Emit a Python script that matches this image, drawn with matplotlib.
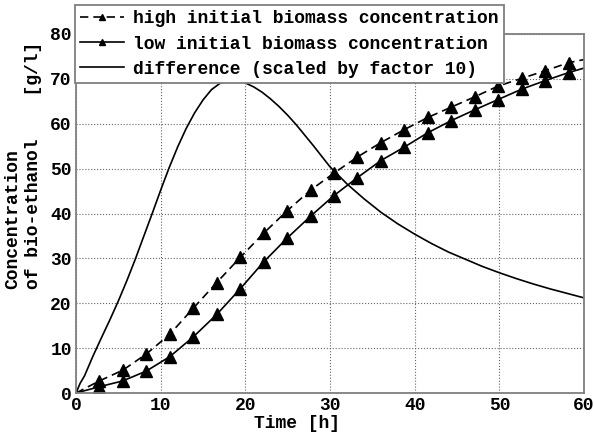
from __future__ import annotations

import matplotlib

matplotlib.use("Agg")
import matplotlib.pyplot as plt
from matplotlib.axes import Axes
from matplotlib.figure import Figure

# sampling times of the two simulated runs (markers sit on these points)
time_runs = [0, 2.77, 5.54, 8.31, 11.08, 13.85, 16.62, 19.39, 22.16, 24.93, 27.70, 30.47,
             33.24, 36.01, 38.78, 41.55, 44.32, 47.09, 49.86, 52.63, 55.40, 58.17, 60]
high_biomass = [0, 2.7, 5.1, 8.7, 13.1, 18.9, 24.6, 30.2, 35.6, 40.6, 45.2, 49.0,
                52.6, 55.8, 58.7, 61.4, 63.7, 66.0, 68.4, 70.1, 71.8, 73.6, 74.3]
low_biomass = [0, 1.4, 2.7, 4.9, 8.1, 12.5, 17.5, 23.2, 29.2, 34.5, 39.4, 44.0,
               48.0, 51.8, 54.8, 58.0, 60.7, 63.1, 65.4, 67.7, 69.6, 71.4, 72.4]

# difference curve (already multiplied by 10)
time_diff = [0, 0.5, 1, 2, 3, 4, 5, 6, 7, 8, 9, 10, 11, 12, 13, 14, 15, 16, 17, 18,
             19, 20, 21, 22, 23, 24, 25, 26, 27, 28, 29, 30, 32, 34, 36, 38, 40, 42,
             44, 46, 48, 50, 52, 54, 56, 58, 60]
diff_scaled = [0, 2.2, 3.8, 8.2, 12.3, 16.3, 20.5, 25.0, 29.8, 34.9, 40.0, 45.2, 50.2,
               54.8, 58.9, 62.4, 65.3, 67.6, 69.0, 69.7, 69.7, 69.1, 68.2, 67.0, 65.5,
               63.8, 61.9, 59.8, 57.5, 55.2, 52.8, 50.4, 46.6, 43.3, 40.3, 37.7, 35.4,
               33.3, 31.4, 29.8, 28.2, 26.8, 25.5, 24.3, 23.2, 22.2, 21.2]

x_ticks = [0, 10, 20, 30, 40, 50, 60]
y_ticks = [0, 10, 20, 30, 40, 50, 60, 70, 80]

FONT = "Liberation Mono"
FSIZE = 13
EDGE = "#7f7f7f"


def init_figure() -> tuple[Figure, Axes]:
    fig = plt.figure(figsize=(5.94, 4.32), dpi=100)
    ax = fig.add_axes([76 / 594, 39 / 432, 508 / 594, 359 / 432])
    ax.set_xlim(0, 60)
    ax.set_ylim(0, 80)
    ax.set_xticks(x_ticks)
    ax.set_yticks(y_ticks)
    ax.grid(ls=":", color="#666666", lw=0.8)
    ax.tick_params(length=0, pad=3)
    for lab in ax.get_xticklabels() + ax.get_yticklabels():
        lab.set_fontfamily(FONT)
        lab.set_fontweight("bold")
        lab.set_fontsize(FSIZE)
    for sp in ax.spines.values():
        sp.set_color(EDGE)
        sp.set_linewidth(1.3)
    return fig, ax


def main() -> None:
    fig, ax = init_figure()

    ax.plot(time_runs, high_biomass, color="black", lw=1.2, ls=(0, (5, 3)),
            marker="^", markersize=8, markevery=slice(1, -1),
            label="high initial biomass concentration")
    ax.plot(time_runs, low_biomass, color="black", lw=1.2,
            marker="^", markersize=8, markevery=slice(1, -1),
            label="low initial biomass concentration")
    ax.plot(time_diff, diff_scaled, color="black", lw=1.2,
            label="difference (scaled by factor 10)")

    ax.set_xlabel("Time [h]", fontfamily=FONT, fontweight="bold", fontsize=FSIZE)
    ax.xaxis.set_label_coords((297 - 76) / 508, -0.062, transform=ax.transAxes)
    ax.xaxis.label.set_va("top")

    fig.text(4 / 594, (432 - 289) / 432, "Concentration\nof bio-ethanol    [g/l]",
             rotation=90, ha="left", va="bottom", multialignment="left",
             fontfamily=FONT, fontweight="bold", fontsize=FSIZE, linespacing=1.3)

    leg = ax.legend(loc="upper left", bbox_to_anchor=(75 / 594, 1 - 5 / 432),
                    bbox_transform=fig.transFigure, borderaxespad=0,
                    prop={"family": FONT, "weight": "bold", "size": FSIZE},
                    fancybox=False, framealpha=1, edgecolor=EDGE,
                    handlelength=2.4, handletextpad=0.5, labelspacing=0.45,
                    borderpad=0.3, markerscale=0.5)
    leg.get_frame().set_linewidth(1.3)

    fig.savefig("out.png", dpi=100)
    plt.close(fig)


if __name__ == "__main__":
    main()
